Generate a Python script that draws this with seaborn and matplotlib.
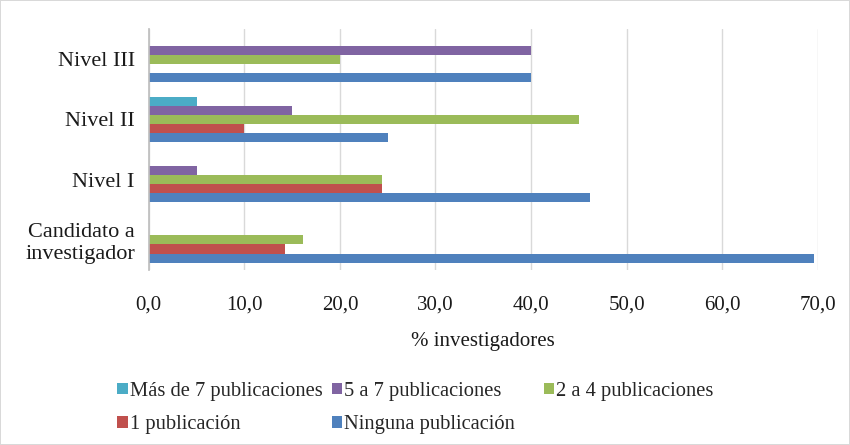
import pandas as pd
import seaborn as sns
import matplotlib.pyplot as plt
from matplotlib.ticker import FuncFormatter

# categories top -> bottom
NIVELES = ["Nivel III", "Nivel II", "Nivel I", "Candidato a\ninvestigador"]
SERIES = ["Más de 7 publicaciones", "5 a 7 publicaciones", "2 a 4 publicaciones",
          "1 publicación", "Ninguna publicación"]
COLORS = ["#4BACC6", "#8064A2", "#9BBB59", "#C0504D", "#4F81BD"]

# % investigadores, one list per series, in NIVELES order
mas_de_7 = [0.0, 5.0, 0.0, 0.0]
cinco_a_7 = [40.0, 15.0, 5.1, 0.0]
dos_a_4 = [20.0, 45.0, 24.4, 16.1]
una_pub = [0.0, 10.0, 24.4, 14.3]
ninguna = [40.0, 25.0, 46.2, 69.6]

rows = []
for serie, vals in zip(SERIES, [mas_de_7, cinco_a_7, dos_a_4, una_pub, ninguna]):
    for nivel, v in zip(NIVELES, vals):
        rows.append({"nivel": nivel, "serie": serie, "pct": v})
df = pd.DataFrame(rows)

sns.set_theme(style="white")
plt.rcParams["font.family"] = ["Liberation Serif", "DejaVu Serif"]

fig = plt.figure(figsize=(8.5, 4.45), dpi=100, linewidth=1.2, edgecolor="#d9d9d9")
ax = fig.add_axes([0.175, 0.393, 0.787, 0.542])

sns.barplot(data=df, y="nivel", x="pct", hue="serie", order=NIVELES,
            hue_order=SERIES, palette=COLORS, orient="h", width=0.75,
            errorbar=None, saturation=1, linewidth=0, ax=ax)

ax.set_xlim(0, 70)
ax.set_xticks(range(0, 71, 10))
ax.xaxis.set_major_formatter(FuncFormatter(lambda v, p: f"{v:.1f}".replace(".", ",")))
ax.grid(True, axis="x", color="#d9d9d9", linewidth=1)
ax.set_axisbelow(True)
for side in ("top", "right", "bottom"):
    ax.spines[side].set_visible(False)
ax.spines["left"].set_color("#bfbfbf")
ax.tick_params(axis="both", length=0, colors="#1a1a1a")
ax.tick_params(axis="y", labelsize=16, pad=10)
ax.tick_params(axis="x", labelsize=15, pad=18)
ax.set_ylabel("")
ax.set_xlabel("% investigadores", fontsize=15, color="#1a1a1a", labelpad=13)

# legend laid out like the original: three columns, filled row-wise
handles, labels = ax.get_legend_handles_labels()
ax.get_legend().remove()
columns = [([0, 3], 0.138), ([1, 4], 0.39), ([2], 0.640)]
for idx, x0 in columns:
    fig.legend([handles[i] for i in idx], [labels[i] for i in idx],
               loc="upper left", bbox_to_anchor=(x0, 0.142), frameon=False,
               fontsize=14.8, handlelength=0.5, handleheight=0.5,
               handletextpad=0.1, labelspacing=0.7, borderpad=0,
               borderaxespad=0)

fig.savefig("out.png", dpi=100)
